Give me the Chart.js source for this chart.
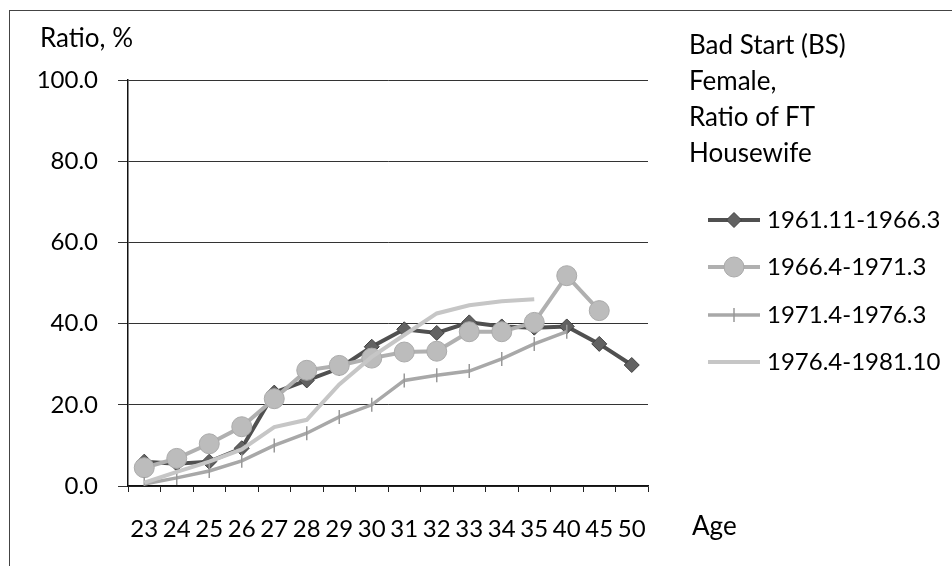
<!DOCTYPE html>
<html>
<head>
<meta charset="utf-8">
<script src="https://cdn.jsdelivr.net/npm/chart.js@4/dist/chart.umd.min.js"></script>
<style>
  html, body { margin: 0; padding: 0; background: #fff; }
  #wrap { position: relative; width: 952px; height: 566px; overflow: hidden; font-family: Lato, sans-serif; color: #000; }
  #frame { position: absolute; left: 9px; top: 10px; width: 960px; height: 580px; border-left: 1px solid #444; border-top: 1px solid #444; }
  canvas { position: absolute; left: 0; top: 0; }
  .txt { position: absolute; font-size: 26px; line-height: 26px; white-space: nowrap; }
  #title { position: absolute; left: 689px; top: 26px; font-size: 26px; line-height: 36px; }
  .leg { position: absolute; left: 767px; font-size: 24px; line-height: 24px; white-space: nowrap; }
</style>
</head>
<body>
<div id="wrap">
  <div id="frame"></div>
  <canvas id="chart" width="952" height="566"></canvas>
  <div class="txt" style="left:40px; top:24px;">Ratio, %</div>
  <div class="txt" style="left:692px; top:512px;">Age</div>
  <div id="title">Bad Start (BS)<br>Female,<br>Ratio of FT<br>Housewife</div>
  <div id="legend"></div>
</div>
<script>
const ages = ['23', '24', '25', '26', '27', '28', '29', '30', '31', '32', '33', '34', '35', '40', '45', '50'];

const yTicks = [0, 20, 40, 60, 80, 100];

const seriesNames = ['1961.11-1966.3', '1966.4-1971.3', '1971.4-1976.3', '1976.4-1981.10'];

const bs1961 = [6.0, 5.5, 6.0, 9.3, 23.0, 26.0, 29.0, 34.3, 38.6, 37.7, 40.3, 39.3, 39.0, 39.3, 35.0, 29.8];
const bs1966 = [4.5, 6.8, 10.4, 14.6, 21.5, 28.5, 29.7, 31.5, 33.0, 33.2, 38.0, 38.0, 40.3, 51.8, 43.2, null];
const bs1971 = [0.5, 2.0, 3.7, 6.2, 10.0, 13.0, 17.0, 20.0, 26.0, 27.3, 28.3, 31.3, 35.0, 38.0, null, null];
const bs1976 = [0.8, 3.5, 6.0, 9.0, 14.5, 16.3, 25.0, 31.8, 37.2, 42.5, 44.5, 45.5, 46.0, null, null, null];

const FONT = { family: 'Lato, sans-serif', size: 24 };

// excel draws later series on top, chart.js draws low order on top
const datasets = [
  {
    label: seriesNames[0],
    data: bs1961,
    borderColor: '#505050',
    backgroundColor: '#626262',
    borderWidth: 4,
    pointStyle: 'rectRot',
    pointRadius: 7.5,
    pointBorderWidth: 1,
    pointBorderColor: '#404040',
    order: 3,
  },
  {
    label: seriesNames[1],
    data: bs1966,
    borderColor: '#b0b0b0',
    backgroundColor: '#bcbcbc',
    borderWidth: 4,
    pointStyle: 'circle',
    pointRadius: 10,
    pointBorderWidth: 1,
    pointBorderColor: '#aaaaaa',
    order: 2,
  },
  {
    label: seriesNames[2],
    data: bs1971,
    borderColor: '#a8a8a8',
    backgroundColor: '#a0a0a0',
    borderWidth: 3.5,
    pointStyle: 'line',
    pointRotation: 90,
    pointRadius: 7,
    pointBorderWidth: 1.5,
    pointBorderColor: '#999999',
    order: 1,
  },
  {
    label: seriesNames[3],
    data: bs1976,
    borderColor: '#c6c6c6',
    backgroundColor: '#c6c6c6',
    borderWidth: 4,
    pointStyle: false,
    pointRadius: 0,
    order: 0,
  },
];

const legendRows = [220, 267, 315, 362];

const legendMarkers = {
  id: 'legendMarkers',
  afterDraw(chart) {
    const ctx = chart.ctx;
    chart.data.datasets.forEach((ds, i) => {
      const y = legendRows[i];
      ctx.save();
      ctx.strokeStyle = ds.borderColor;
      ctx.lineWidth = ds.borderWidth;
      ctx.beginPath();
      ctx.moveTo(708, y);
      ctx.lineTo(760, y);
      ctx.stroke();
      if (ds.pointStyle) {
        ctx.fillStyle = ds.backgroundColor;
        ctx.strokeStyle = ds.pointBorderColor;
        ctx.lineWidth = ds.pointBorderWidth;
        Chart.helpers.drawPoint(ctx, {
          pointStyle: ds.pointStyle,
          rotation: ds.pointRotation || 0,
          radius: ds.pointRadius,
          borderWidth: ds.pointBorderWidth,
        }, 734, y);
      }
      ctx.restore();
    });
  },
};

function buildLegend() {
  const box = document.getElementById('legend');
  seriesNames.forEach((name, i) => {
    const d = document.createElement('div');
    d.className = 'leg';
    d.style.top = (legendRows[i] - 13) + 'px';
    d.textContent = name;
    box.appendChild(d);
  });
}

function renderChart() {
  new Chart(document.getElementById('chart'), {
    type: 'line',
    data: { labels: ages, datasets },
    options: {
      responsive: false,
      animation: false,
      devicePixelRatio: 1,
      layout: { padding: { left: 0, top: 80, right: 304, bottom: 0 } },
      plugins: {
        legend: { display: false },
        tooltip: { enabled: false },
      },
      elements: { line: { tension: 0 } },
      scales: {
        x: {
          offset: true,
          grid: {
            offset: true,
            drawOnChartArea: false,
            drawTicks: true,
            tickLength: 6,
            color: '#222',
          },
          border: { display: true, color: '#111', width: 1.5 },
          ticks: { color: '#000', font: FONT, padding: 23, maxRotation: 0, autoSkip: false },
          afterFit(scale) { scale.height = 80; },
        },
        y: {
          min: 0,
          max: 100,
          afterBuildTicks(scale) { scale.ticks = yTicks.map((v) => ({ value: v })); },
          grid: {
            color: '#333',
            lineWidth: 1,
            drawTicks: true,
            tickLength: 10,
          },
          border: { display: true, color: '#111', width: 1.5 },
          ticks: {
            color: '#000',
            font: FONT,
            padding: 20,
            callback(v) { return Number(v).toFixed(1); },
          },
          afterFit(scale) { scale.width = 128; },
        },
      },
    },
    plugins: [legendMarkers],
  });
}

buildLegend();
renderChart();
</script>
</body>
</html>
